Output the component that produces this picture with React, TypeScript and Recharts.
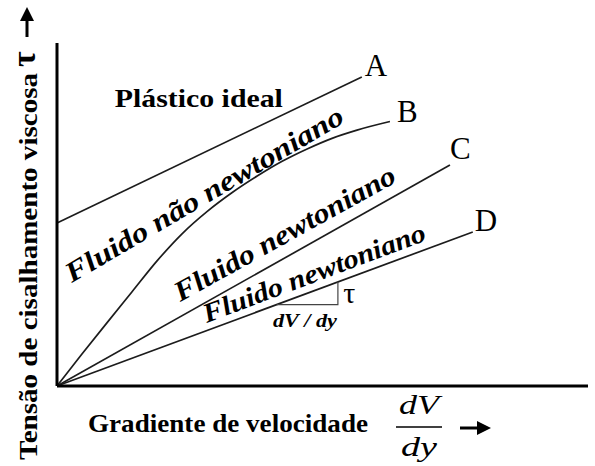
import { Line, LineChart, ReferenceDot, XAxis, YAxis } from "recharts";

// shear stress vs velocity gradient, arbitrary units 0-100 on both axes
const GRAD_A = [0, 57.4];
const TAU_A = [47.5, 90.1];

const GRAD_B = [0, 4.7, 9.4, 14.1, 18.8, 23.5, 28.3, 33.0, 37.7, 42.4, 47.1, 51.8, 56.5, 62.7];
const TAU_B = [0, 9.3, 18.4, 27.4, 36.4, 44.3, 50.9, 56.4, 61.2, 65.5, 69.1, 72.2, 74.6, 77.1];

const GRAD_C = [0, 74.0];
const TAU_C = [0, 64.4];

const GRAD_D = [0, 78.3];
const TAU_D = [0, 44.9];

// slope triangle drawn on curve D
const GRAD_SLOPE = [41.4, 52.9, 52.9];
const TAU_SLOPE = [23.7, 23.7, 30.3];

const SERIF = '"Liberation Serif", "Times New Roman", serif';
const INK = "#1c1c1c";

const toPoints = (xs: number[], ys: number[]) => xs.map((x, i) => ({ x, y: ys[i] }));
const last = (arr: number[]) => arr[arr.length - 1];

type NoteOpts = {
  text: string;
  dx?: number;
  dy?: number;
  angle?: number;
  size: number;
  length?: number;
  bold?: boolean;
  italic?: boolean;
  anchor?: "start" | "middle" | "end";
};

function noteAt(o: NoteOpts) {
  return (p: any) => {
    const x = p.cx + (o.dx ?? 0);
    const y = p.cy + (o.dy ?? 0);
    return (
      <text
        x={x}
        y={y}
        transform={o.angle ? `rotate(${o.angle} ${x} ${y})` : undefined}
        fontFamily={SERIF}
        fontSize={o.size}
        fontWeight={o.bold ? 700 : 400}
        fontStyle={o.italic ? "italic" : "normal"}
        textAnchor={o.anchor ?? "start"}
        textLength={o.length}
        lengthAdjust={o.length ? "spacingAndGlyphs" : undefined}
        fill="#000"
      >
        {o.text}
      </text>
    );
  };
}

function XTitle(props: any) {
  const { x, y } = props.viewBox;
  return (
    <g fontFamily={SERIF} fill="#000">
      <text x={x + 31} y={y + 46} fontSize={26} fontWeight={700} textLength={280} lengthAdjust="spacingAndGlyphs">
        Gradiente de velocidade
      </text>
      <text x={x + 362} y={y + 28} fontSize={27} fontStyle="italic" textAnchor="middle" textLength={40} lengthAdjust="spacingAndGlyphs">
        dV
      </text>
      <line x1={x + 339} x2={x + 385} y1={y + 41} y2={y + 41} stroke="#000" strokeWidth={1.5} />
      <text x={x + 362} y={y + 70} fontSize={27} fontStyle="italic" textAnchor="middle" textLength={36} lengthAdjust="spacingAndGlyphs">
        dy
      </text>
      <line x1={x + 403} x2={x + 422} y1={y + 42} y2={y + 42} stroke="#000" strokeWidth={3} />
      <polygon points={`${x + 420},${y + 35} ${x + 434},${y + 42} ${x + 420},${y + 49}`} fill="#000" />
    </g>
  );
}

function YTitle(props: any) {
  const { x, y, height } = props.viewBox;
  const bx = x + 37;
  const by = y + height + 74;
  const ty = y + 24;
  return (
    <g fontFamily={SERIF} fill="#000" fontWeight={700}>
      <text
        x={bx}
        y={by}
        transform={`rotate(-90 ${bx} ${by})`}
        fontSize={26}
        textLength={387}
        lengthAdjust="spacingAndGlyphs"
      >
        Tensão de cisalhamento viscosa
      </text>
      <text x={bx - 2} y={ty} transform={`rotate(-90 ${bx - 2} ${ty})`} fontSize={34}>
        τ
      </text>
      <line x1={x + 27} x2={x + 27} y1={y - 6} y2={y - 24} stroke="#000" strokeWidth={3} />
      <polygon points={`${x + 20},${y - 22} ${x + 27},${y - 36} ${x + 34},${y - 22}`} fill="#000" />
    </g>
  );
}

export default function App() {
  const curves = [
    { name: "A", data: toPoints(GRAD_A, TAU_A), type: "linear" as const },
    { name: "B", data: toPoints(GRAD_B, TAU_B), type: "monotone" as const },
    { name: "C", data: toPoints(GRAD_C, TAU_C), type: "linear" as const },
    { name: "D", data: toPoints(GRAD_D, TAU_D), type: "linear" as const },
  ];

  return (
    <div style={{ position: "absolute", left: 0, top: 0, width: 595, height: 466, background: "#fff" }}>
      <LineChart width={595} height={466} margin={{ top: 43, right: 7, bottom: 0, left: 0 }}>
        <XAxis
          dataKey="x"
          type="number"
          domain={[0, 100]}
          tick={false}
          tickLine={false}
          axisLine={{ stroke: "#000", strokeWidth: 3 }}
          height={80}
          label={{ content: XTitle }}
        />
        <YAxis
          type="number"
          domain={[0, 100]}
          tick={false}
          tickLine={false}
          axisLine={{ stroke: "#000", strokeWidth: 3 }}
          width={57}
          label={{ content: YTitle }}
        />

        {curves.map((c) => (
          <Line
            key={c.name}
            data={c.data}
            dataKey="y"
            type={c.type}
            stroke={INK}
            strokeWidth={1.7}
            dot={false}
            activeDot={false}
            isAnimationActive={false}
          />
        ))}
        <Line
          data={toPoints(GRAD_SLOPE, TAU_SLOPE)}
          dataKey="y"
          type="linear"
          stroke="#444"
          strokeWidth={1.2}
          dot={false}
          activeDot={false}
          isAnimationActive={false}
        />

        {/* curve letters at line ends */}
        <ReferenceDot x={last(GRAD_A)} y={last(TAU_A)} shape={noteAt({ text: "A", dx: 3, dy: -1, size: 31 })} />
        <ReferenceDot x={last(GRAD_B)} y={last(TAU_B)} shape={noteAt({ text: "B", dx: 7, dy: 0, size: 31 })} />
        <ReferenceDot x={last(GRAD_C)} y={last(TAU_C)} shape={noteAt({ text: "C", dx: 0, dy: -6, size: 31 })} />
        <ReferenceDot x={last(GRAD_D)} y={last(TAU_D)} shape={noteAt({ text: "D", dx: 2, dy: -1, size: 31 })} />

        {/* region texts */}
        <ReferenceDot x={10.9} y={81.3} shape={noteAt({ text: "Plástico ideal", size: 26, bold: true, length: 168 })} />
        <ReferenceDot
          x={2.8}
          y={30.0}
          shape={noteAt({ text: "Fluido não newtoniano", size: 28, bold: true, italic: true, angle: -30.5, length: 318 })}
        />
        <ReferenceDot
          x={23.2}
          y={24.5}
          shape={noteAt({ text: "Fluido newtoniano", size: 28, bold: true, italic: true, angle: -29, length: 249 })}
        />
        <ReferenceDot
          x={28.2}
          y={18.4}
          shape={noteAt({ text: "Fluido newtoniano", size: 27, bold: true, italic: true, angle: -20.6, length: 236 })}
        />
        <ReferenceDot x={53.9} y={24.2} shape={noteAt({ text: "τ", size: 30 })} />
        <ReferenceDot
          x={46.7}
          y={17.2}
          shape={noteAt({ text: "dV / dy", size: 19, bold: true, italic: true, anchor: "middle", length: 64 })}
        />
      </LineChart>
    </div>
  );
}
